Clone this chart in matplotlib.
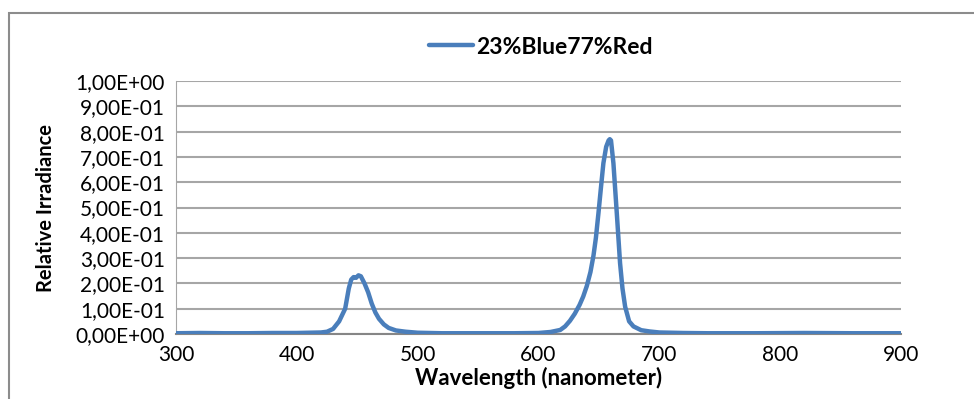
import matplotlib
matplotlib.use("Agg")
from matplotlib import pyplot as plt
from matplotlib.patches import Rectangle

# spectrum (nm, relative irradiance)
wavelength = [300, 320, 340, 360, 380, 400, 410, 420, 425, 430, 435, 440, 443, 445,
              447, 449, 451, 453, 456, 459, 462, 465, 468, 472, 476, 482, 490, 500,
              520, 540, 560, 580, 600, 610, 618, 622, 626, 630, 634, 637, 640, 643,
              645.5, 647.5, 649.6, 651.5, 653.7, 656, 658, 659, 660, 662, 664.8,
              667.5, 669.5, 671.7, 675, 678.6, 685, 692, 700, 720, 740, 780, 820, 860,
              900]
irradiance = [0.003, 0.004, 0.003, 0.003, 0.004, 0.004, 0.005, 0.006, 0.009, 0.02,
              0.05, 0.10, 0.18, 0.215, 0.225, 0.222, 0.232, 0.228, 0.20, 0.165, 0.12,
              0.085, 0.06, 0.038, 0.024, 0.014, 0.009, 0.005, 0.003, 0.003, 0.003,
              0.003, 0.004, 0.008, 0.016, 0.03, 0.052, 0.08, 0.115, 0.148, 0.19, 0.245,
              0.31, 0.38, 0.477, 0.57, 0.675, 0.74, 0.765, 0.77, 0.765, 0.675, 0.477,
              0.28, 0.18, 0.108, 0.05, 0.03, 0.015, 0.01, 0.006, 0.004, 0.003, 0.003,
              0.004, 0.003, 0.003]
series_name = "23%Blue77%Red"
x_ticks = [300, 400, 500, 600, 700, 800, 900]
y_ticks = [0.0, 0.1, 0.2, 0.3, 0.4, 0.5, 0.6, 0.7, 0.8, 0.9, 1.0]
y_labels = ["0,00E+00", "1,00E-01", "2,00E-01", "3,00E-01", "4,00E-01", "5,00E-01",
            "6,00E-01", "7,00E-01", "8,00E-01", "9,00E-01", "1,00E+00"]

plt.rcParams['font.family'] = ['Lato', 'DejaVu Sans']

fig = plt.figure(figsize=(9.74, 3.99), dpi=100)
# outer chart frame (only top and left visible in the crop)
fig.patches.append(Rectangle((9 / 974, -0.1), 1.2, (399 - 13) / 399 + 0.1,
                             transform=fig.transFigure, fill=False,
                             edgecolor='#8c8c8c', linewidth=1.5))

ax = fig.add_axes([176 / 974, (399 - 334) / 399, 725 / 974, 253 / 399])
line, = ax.plot(wavelength, irradiance, color='#4a7ebb', linewidth=3.2, label=series_name,
                solid_capstyle='round', zorder=3)

ax.set_xlim(300, 900)
ax.set_ylim(0, 1.0)
ax.set_xticks(x_ticks)
ax.set_yticks(y_ticks)
ax.set_yticklabels(y_labels)
ax.tick_params(length=0, labelsize=15, pad=8)
ax.grid(axis='y', color='#a6a6a6', linewidth=1.5)
ax.set_axisbelow(True)
for s in ['top', 'right']:
    ax.spines[s].set_visible(False)
ax.spines['left'].set_color('#a6a6a6')
ax.spines['bottom'].set_color('#868686')
ax.spines['bottom'].set_linewidth(1.5)

ax.set_xlabel('Wavelength (nanometer)', fontsize=16, fontweight='bold', labelpad=1)
ax.set_ylabel('Relative Irradiance', fontsize=14.5, fontweight='bold', labelpad=14)

fig.legend(handles=[line], loc='center', bbox_to_anchor=(541 / 974, 1 - 47 / 399),
           frameon=False, prop={'size': 16.5, 'weight': 'bold'}, handlelength=1.9,
           handletextpad=0.15)

plt.savefig('out.png', dpi=100)
